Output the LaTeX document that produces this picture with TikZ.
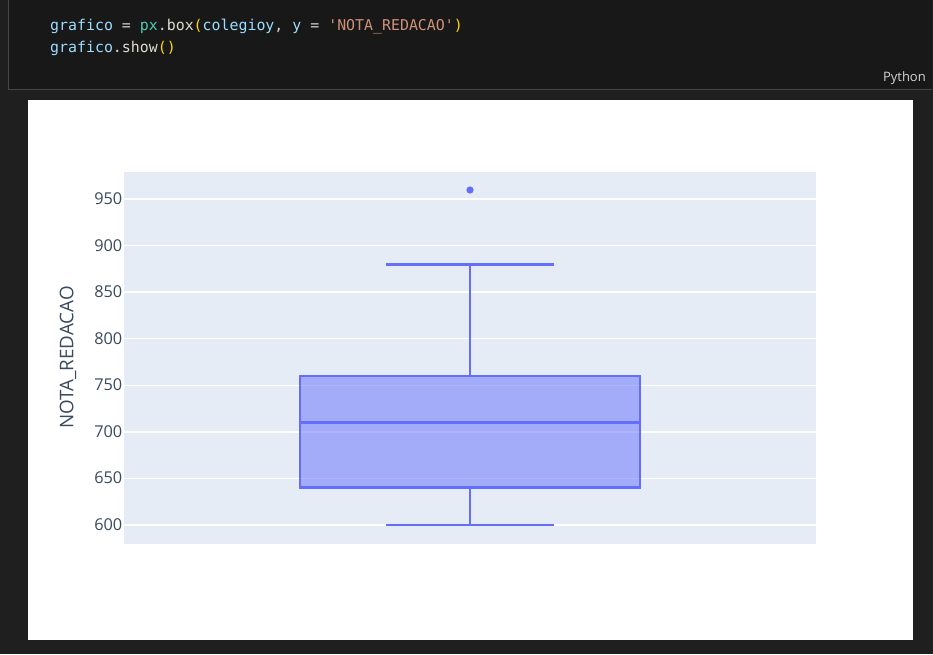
\documentclass[tikz,border=0pt]{standalone}
\usepackage{fontspec}
\setmainfont{Open Sans}
\newfontfamily\codefont{DejaVu Sans Mono}
\usetikzlibrary{calc}
\definecolor{outerbg}{HTML}{1F1F1F}
\definecolor{cellbg}{HTML}{181818}
\definecolor{cellborder}{HTML}{454545}
\definecolor{cvar}{HTML}{9CDCFE}
\definecolor{cplain}{HTML}{D4D4D4}
\definecolor{cfun}{HTML}{DCDCCF}
\definecolor{cmod}{HTML}{4EC9B0}
\definecolor{cbrk}{HTML}{FFD700}
\definecolor{cstr}{HTML}{CE9178}
\definecolor{plotbg}{HTML}{E5ECF6}
\definecolor{boxc}{HTML}{636EFA}
\definecolor{ticktxt}{HTML}{3A4A5F}
\tikzset{
  codetext/.style={anchor=base west, inner sep=0pt, font=\codefont\fontsize{14.9}{18}\selectfont},
  ticklabel/.style={anchor=base east, inner sep=0pt, text=ticktxt, font=\fontsize{16.3}{19}\selectfont},
  gridline/.style={draw=white, line width=1.25pt},
  boxline/.style={draw=boxc, line width=2.6pt},
}
\begin{document}
\begin{tikzpicture}[x=1pt,y=-1pt]
\useasboundingbox (0,0) rectangle (933,654);
% backgrounds
\fill[outerbg] (0,0) rectangle (933,654);
\fill[cellbg] (8,-2) rectangle (932,89);
\draw[cellborder, line width=1pt] (8,-2) -- (8,89) -- (932,89);
\fill[white] (28,100) rectangle (913,640);
% code
\node[codetext] (code1) at (50,30) {\textcolor{cvar}{grafico}\textcolor{cplain}{\ =\ }\textcolor{cmod}{px}\textcolor{cplain}{.}\textcolor{cfun}{box}\textcolor{cbrk}{(}\textcolor{cvar}{colegioy}\textcolor{cplain}{,\ }\textcolor{cvar}{y}\textcolor{cplain}{\ =\ }\textcolor{cstr}{'NOTA\_REDACAO'}\textcolor{cbrk}{)}};
\node[codetext] (code2) at (50,52) {\textcolor{cvar}{grafico}\textcolor{cplain}{.}\textcolor{cfun}{show}\textcolor{cbrk}{()}};
\node[anchor=base east, inner sep=0pt, text=cplain, font=\fontsize{13}{15}\selectfont] (lang) at (926,81) {Python};
% plot area
\fill[plotbg] (124,172) rectangle (816,544);
\foreach \v/\y in {950/199,900/245.6,850/292.1,800/338.7,750/385.3,700/431.9,650/478.4,600/525}{
  \draw[gridline] (124,\y) -- (816,\y);
  \node[ticklabel] (t\v) at (122.5,\y+5.5) {\v};
}
\node[rotate=90, anchor=base, inner sep=0pt, text=ticktxt, font=\fontsize{18.8}{21}\selectfont] (ytitle) at (73.3,357.5) {NOTA\_REDACAO};
% box
\fill[boxc, fill opacity=0.5] (300,376) rectangle (640,487.7);
\draw[boxline] (300,376) rectangle (640,487.7);
\draw[boxline] (300,422.5) -- (640,422.5);
\coordinate (q3) at (470,376);
\coordinate (q1) at (470,487.7);
\coordinate (wtop) at (470,264.5);
\coordinate (wbot) at (470,525);
\draw[boxline] (q3) -- (wtop);
\draw[boxline] (q1) -- (wbot);
\draw[boxline] (386,264.5) -- (554,264.5);
\draw[boxline] (386,525) -- (554,525);
\fill[boxc] (470,190) circle (3.6);
\end{tikzpicture}
\end{document}
